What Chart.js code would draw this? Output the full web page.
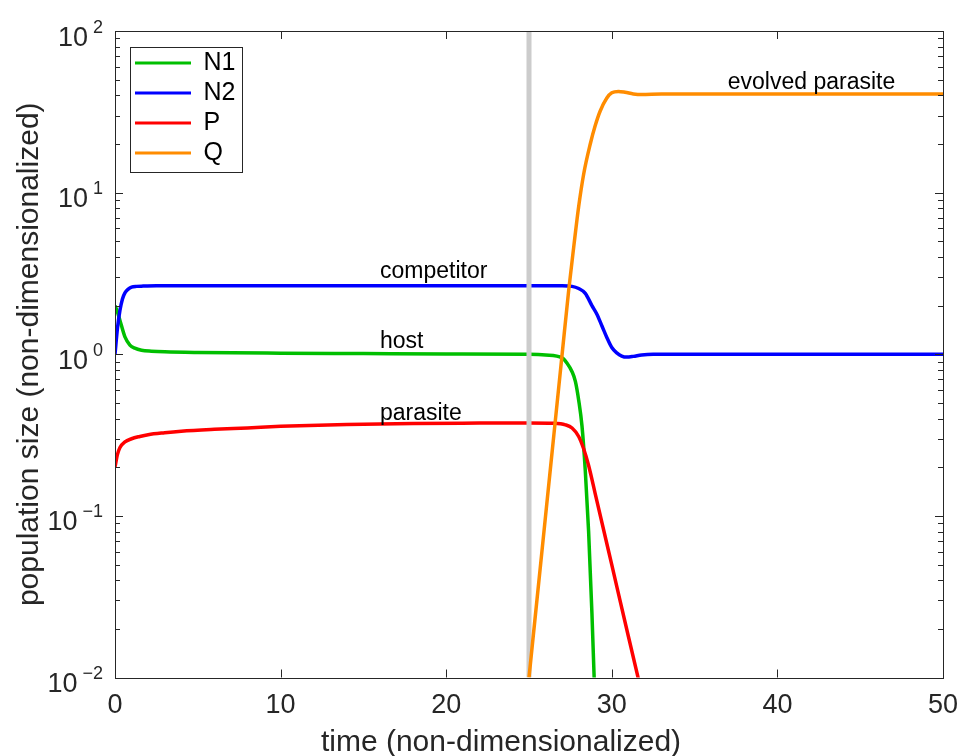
<!DOCTYPE html>
<html>
<head>
<meta charset="utf-8">
<title>population dynamics</title>
<script src="https://cdn.jsdelivr.net/npm/chart.js@4.4.1/dist/chart.umd.min.js"></script>
<style>
  html, body { margin: 0; padding: 0; background: #ffffff; }
  canvas { display: block; }
</style>
</head>
<body>
<canvas id="popChart" width="958" height="756"></canvas>
<script>
// time grids and values
const tN1 = [0, 0.15, 0.3, 0.6, 0.9, 1.2, 1.6, 2.2, 3, 5, 10, 15, 20, 25, 26, 27, 27.3, 27.6, 27.8, 28.0, 28.2, 28.4, 28.6, 28.8, 28.95, 29.1];
const N1 = [2.0, 1.82, 1.62, 1.28, 1.14, 1.09, 1.06, 1.045, 1.035, 1.025, 1.015, 1.01, 1.005, 1.0, 0.99, 0.95, 0.88, 0.78, 0.68, 0.52, 0.36, 0.19, 0.08, 0.025, 0.009, 0.003];

const tN2 = [0, 0.15, 0.3, 0.45, 0.6, 0.8, 1.0, 1.3, 1.7, 2.5, 5, 10, 15, 20, 25, 27, 27.6, 28.0, 28.4, 28.8, 29.1, 29.4, 29.7, 30.0, 30.3, 30.6, 30.9, 31.3, 31.8, 32.5, 35, 40, 50];
const N2 = [1.0, 1.45, 1.87, 2.2, 2.4, 2.53, 2.6, 2.63, 2.64, 2.65, 2.65, 2.65, 2.65, 2.65, 2.65, 2.65, 2.63, 2.55, 2.38, 2.0, 1.77, 1.5, 1.27, 1.1, 1.02, 0.975, 0.96, 0.97, 0.99, 1.0, 1.0, 1.0, 1.0];

const tP = [0, 0.15, 0.3, 0.6, 1, 1.5, 2, 3, 4, 6, 8, 10, 14, 18, 22, 25, 26.5, 27.2, 27.6, 28.0, 28.3, 28.6, 29, 30, 31, 32];
const P = [0.2, 0.24, 0.265, 0.287, 0.3, 0.31, 0.318, 0.327, 0.334, 0.343, 0.35, 0.358, 0.368, 0.373, 0.375, 0.376, 0.374, 0.366, 0.35, 0.31, 0.26, 0.205, 0.137, 0.0497, 0.018, 0.0066];

const tQ = [25, 25.5, 26, 26.5, 27, 27.4, 27.7, 28.0, 28.3, 28.7, 29.0, 29.3, 29.7, 30.0, 30.4, 30.8, 31.3, 31.8, 33, 35, 40, 50];
const Q = [0.01, 0.0316, 0.1, 0.316, 1.0, 2.5, 4.6, 8.2, 13, 20, 26, 32, 38.5, 41.5, 42.3, 41.8, 40.8, 40.4, 40.7, 40.7, 40.7, 40.7];

// vertical marker where the evolved parasite appears
const tMarker = 25;

const seriesNames = ['N1', 'N2', 'P', 'Q'];
const seriesColors = ['#00bf00', '#0000ff', '#ff0000', '#ff8c00'];

const xTickValues = [0, 10, 20, 30, 40, 50];
const yTickValues = [0.01, 0.1, 1, 10, 100];
const yTickExponents = ['\u22122', '\u22121', '0', '1', '2'];

const xTitle = 'time (non-dimensionalized)';
const yTitle = 'population size (non-dimensionalized)';

const noteTexts = ['competitor', 'host', 'parasite', 'evolved parasite'];
const noteX = [16, 16, 16, 37];
const noteY = [2.95, 1.09, 0.39, 43.7];

const FONT = '"Liberation Sans", Arial, Helvetica, sans-serif';
const AXIS_COLOR = '#262626';

const toPoints = (ts, vs) => ts.map((t, i) => ({ x: t, y: vs[i] }));

// MATLAB-like box, inward ticks, 10^n labels, x label and text annotations
const axesPlugin = {
    id: 'matlabAxes',
    afterDatasetsDraw(chart) {
        const { ctx, chartArea: ca, scales: { x, y } } = chart;
        ctx.save();
        ctx.strokeStyle = AXIS_COLOR;
        ctx.lineWidth = 1;

        ctx.beginPath();
        // x ticks, bottom and top
        xTickValues.forEach(v => {
            const px = Math.round(x.getPixelForValue(v)) + 0.5;
            ctx.moveTo(px, ca.bottom); ctx.lineTo(px, ca.bottom - 8);
            ctx.moveTo(px, ca.top); ctx.lineTo(px, ca.top + 8);
        });
        // y ticks, major and minor, left and right
        for (let e = -2; e <= 2; e++) {
            for (let k = 1; k <= 9; k++) {
                const v = k * Math.pow(10, e);
                if (v > 100.0001) break;
                const py = Math.round(y.getPixelForValue(v)) + 0.5;
                const len = k === 1 ? 8 : 5;
                ctx.moveTo(ca.left, py); ctx.lineTo(ca.left + len, py);
                ctx.moveTo(ca.right, py); ctx.lineTo(ca.right - len, py);
            }
        }
        ctx.stroke();

        // axes box
        ctx.strokeRect(Math.round(ca.left) + 0.5, Math.round(ca.top) + 0.5,
            Math.round(ca.right - ca.left), Math.round(ca.bottom - ca.top));

        // y tick labels as 10 with a raised exponent
        ctx.fillStyle = AXIS_COLOR;
        ctx.textAlign = 'right';
        ctx.textBaseline = 'alphabetic';
        yTickValues.forEach((v, i) => {
            const py = y.getPixelForValue(v);
            const right = ca.left - 12;
            ctx.font = '18px ' + FONT;
            ctx.fillText(yTickExponents[i], right, py + 1.5);
            const ew = ctx.measureText(yTickExponents[i]).width;
            ctx.font = '27px ' + FONT;
            ctx.fillText('10', right - ew - 5, py + 14.5);
        });

        // x axis label, sitting a bit left of the plot centre like the original
        ctx.textAlign = 'center';
        ctx.textBaseline = 'middle';
        ctx.font = '30px ' + FONT;
        ctx.fillText(xTitle, (ca.left + ca.right) / 2 - 28, 742.5);

        // curve labels
        ctx.fillStyle = '#000000';
        ctx.textAlign = 'left';
        ctx.textBaseline = 'alphabetic';
        ctx.font = '23px ' + FONT;
        noteTexts.forEach((txt, i) => {
            ctx.fillText(txt, x.getPixelForValue(noteX[i]), y.getPixelForValue(noteY[i]));
        });

        // legend frame
        const boxes = chart.legend.legendHitBoxes;
        if (boxes && boxes.length) {
            const l = Math.min(...boxes.map(b => b.left)) - 5;
            const r = Math.max(...boxes.map(b => b.left + b.width)) + 7;
            const t = boxes[0].top - 4;
            const last = boxes[boxes.length - 1];
            const b = last.top + last.height + 6;
            ctx.strokeStyle = AXIS_COLOR;
            ctx.strokeRect(Math.round(l) + 0.5, Math.round(t) + 0.5, Math.round(r - l), Math.round(b - t));
        }
        ctx.restore();
    }
};

// put the legend a little inside the top-left corner of the plot
const legendNudge = {
    id: 'legendNudge',
    afterLayout(chart) {
        const lg = chart.legend;
        if (!lg) return;
        lg.left = chart.chartArea.left + 15;
        lg.top = chart.chartArea.top + 14.5;
        lg.right = lg.left + lg.width;
        lg.bottom = lg.top + lg.height;
    }
};

document.addEventListener('DOMContentLoaded', () => {
    const lineSet = (label, pts, color, order) => ({
        label: label,
        data: pts,
        borderColor: color,
        backgroundColor: color,
        borderWidth: 3.5,
        pointRadius: 0,
        cubicInterpolationMode: 'monotone',
        order: order
    });

    const datasets = [
        lineSet(seriesNames[0], toPoints(tN1, N1), seriesColors[0], 5),
        lineSet(seriesNames[1], toPoints(tN2, N2), seriesColors[1], 4),
        lineSet(seriesNames[2], toPoints(tP, P), seriesColors[2], 3),
        lineSet(seriesNames[3], toPoints(tQ, Q), seriesColors[3], 1),
        {
            label: 'marker',
            data: [{ x: tMarker, y: yTickValues[0] }, { x: tMarker, y: yTickValues[yTickValues.length - 1] }],
            borderColor: '#cccccc',
            backgroundColor: '#cccccc',
            borderWidth: 5,
            pointRadius: 0,
            order: 2
        }
    ];

    new Chart(document.getElementById('popChart'), {
        type: 'line',
        data: { datasets },
        plugins: [legendNudge, axesPlugin],
        options: {
            responsive: false,
            animation: false,
            devicePixelRatio: 1,
            layout: { padding: { left: 0, right: 15, top: 31, bottom: 22.5 } },
            plugins: {
                tooltip: { enabled: false },
                legend: {
                    position: 'chartArea',
                    align: 'start',
                    labels: {
                        font: { family: FONT, size: 25 },
                        color: '#000000',
                        boxWidth: 56,
                        boxHeight: 3,
                        padding: 5,
                        filter: item => item.datasetIndex < 4,
                        sort: (a, b) => a.datasetIndex - b.datasetIndex,
                        generateLabels: chart => Chart.defaults.plugins.legend.labels.generateLabels(chart)
                            .map(item => Object.assign(item, { lineWidth: 0 }))
                    }
                }
            },
            scales: {
                x: {
                    type: 'linear',
                    min: 0,
                    max: 50,
                    afterBuildTicks: axis => { axis.ticks = xTickValues.map(v => ({ value: v })); },
                    // the end labels may hang over the plot edge, as in the original
                    afterFit: axis => { axis.paddingLeft = 0; axis.paddingRight = 0; },
                    grid: { display: false, drawTicks: false },
                    border: { display: false },
                    ticks: {
                        color: AXIS_COLOR,
                        font: { family: FONT, size: 27, lineHeight: 1 },
                        padding: 14.5,
                        maxRotation: 0,
                        autoSkip: false
                    },
                    title: { display: false }
                },
                y: {
                    type: 'logarithmic',
                    min: yTickValues[0],
                    max: yTickValues[yTickValues.length - 1],
                    grid: { display: false, drawTicks: false },
                    border: { display: false },
                    ticks: { display: false },
                    title: {
                        display: true,
                        text: yTitle,
                        color: AXIS_COLOR,
                        font: { family: FONT, size: 30, lineHeight: 1 },
                        padding: { top: 15, bottom: 70 }
                    }
                }
            }
        }
    });
});
</script>
</body>
</html>
